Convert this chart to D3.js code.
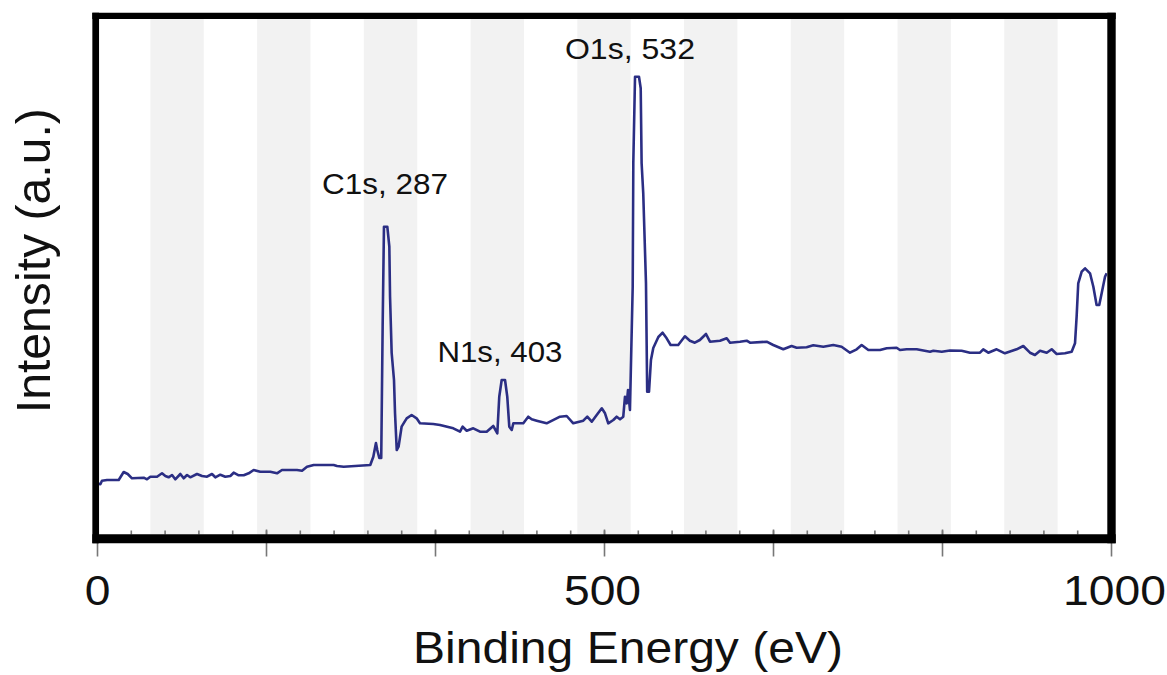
<!DOCTYPE html>
<html>
<head>
<meta charset="utf-8">
<script src="https://cdn.jsdelivr.net/npm/d3@7"></script>
<style>
  body { margin: 0; background: #fff; }
  text { font-family: "Liberation Sans", Arial, sans-serif; fill: #111; }
</style>
</head>
<body>
<svg id="chart"></svg>
<script>

// DATA: XPS survey spectrum (intensity in arbitrary units)
const energy = [
  0, 3.3, 4.9, 9.9, 21.4, 26.3, 30.3, 34.5, 46.1, 49.3, 52.6, 59.2, 64.1, 67.4, 70.6, 74,
  77.2, 82.2, 85.5, 88.8, 92, 98.6, 103.6, 108.5, 113.4, 116.7, 121.6, 126.5, 131.5, 134.8,
  139.7, 144.7, 149.6, 154.5, 161, 170.9, 177.5, 182.4, 197.2, 202.2, 207.1, 213.7, 233.4,
  236.7, 243.3, 269.5, 272.5, 275.1, 276.4, 278.4, 280.3, 281.7, 283, 286.3, 288.3, 289,
  290.6, 292.9, 293.9, 295.6, 297.4, 300.4, 305.4, 310.3, 315.2, 318.5, 331.6, 338.3, 351.4,
  358, 360.6, 364.6, 371.1, 377.7, 384.3, 390.8, 394.8, 396.7, 399.1, 402.4, 404.6, 406.6,
  409, 410.6, 420.4, 425.3, 428.7, 433.6, 443.4, 456.6, 463.2, 469.7, 479.6, 483.5, 487.9,
  492.8, 497.8, 501, 504.2, 509.2, 512.5, 515.8, 519, 520.7, 522.4, 523.7, 525.6, 528.3,
  528.9, 530.6, 534.5, 536.2, 537.1, 538.7, 541.4, 542.6, 544.4, 546.3, 548.6, 553.6, 557.8,
  561.8, 565.7, 573.2, 579.8, 584.7, 589.6, 594.5, 600.6, 604.5, 614.4, 621, 624.3, 634.1,
  640.7, 644, 660.4, 666.9, 676.8, 685, 690, 699.8, 706.4, 716.3, 726.1, 734.3, 742.6, 749.2,
  754.1, 760.7, 772.2, 778.8, 788.6, 791.9, 798.5, 808.4, 821.5, 824.8, 833.1, 841.2, 852.7,
  860.9, 870.8, 874, 879, 887.2, 895.4, 906.9, 913.5, 920.1, 925, 930, 936.6, 941.5, 946.4,
  954.6, 961.2, 964.5, 966.1, 967.7, 971.1, 974.4, 979.3, 982.6, 985.8, 988.4, 990.8, 994.1,
  995.7
];
const intensity = [
  54.7, 53.7, 57.3, 58, 58, 66, 64, 59.7, 60.3, 58.7, 61.3, 61.3, 64.7, 62, 60.7, 63,
  58.7, 64, 59.7, 63, 60.7, 64, 62, 61.3, 64, 60.7, 63.3, 61.3, 62, 65.3,
  62.7, 62.7, 64.7, 68, 66.3, 66.3, 64.7, 68, 68, 67.3, 71.3, 73, 73,
  72, 71.3, 73, 81.3, 95, 88, 80, 80, 211.3, 311.3, 311.3, 291.3, 241.3,
  185, 158, 125, 88, 91.3, 111.3, 119.7, 123, 119.7, 114.7, 114, 113, 109.7,
  106.3, 111.3, 107.3, 109.7, 106.3, 106.3, 112, 104.7, 141.3, 158, 158, 141.3, 111.3,
  108, 114.7, 114.7, 121.3, 118.7, 117.3, 114.7, 121.3, 122, 114.7, 117.3, 121.3, 116.3,
  123, 129.7, 124.7, 114.7, 118, 121.3, 118.7, 121.3, 141.3, 134.7, 148, 128, 251.3,
  374.7, 461.3, 461.3, 449.7, 374.7, 344.7, 254.7, 146.3, 146.3, 178, 190, 201, 205.3,
  199.7, 193, 193, 201.7, 197.3, 195.3, 198, 204, 196.3, 197.3, 199.7, 195.3, 196.3,
  197.3, 195.3, 196.3, 193, 188.7, 192, 190.3, 190.7, 192.7, 191.3, 193, 191.3, 185.3, 188.7,
  193, 188, 188, 189.7, 190.3, 188, 188.7, 188.7, 186.3, 187.3, 186.3, 187.5, 187.3,
  185.3, 185.3, 188.7, 185.3, 188.7, 184.7, 188.7, 192, 185.3, 183, 187.3, 185.3, 188.7, 184,
  184.7, 186.3, 194.7, 221.3, 254.7, 266.3, 269.7, 264.7, 251.3, 233, 233, 244.7, 261.3,
  264.7
];

// peak labels (anchor = energy, intensity where the label baseline sits)
const peakNames = ["C1s, 287", "N1s, 403", "O1s, 532"];
const peakEnergy = [284, 397.4, 525.6];
const peakLevel = [344.5, 176.3, 478.7];

// axis ticks
const majorTicks = d3.range(0, 7).map(i => i * 1000 / 6);
const minorTicks = d3.range(0, 31).map(i => i * 1000 / 30);
const tickLabels = [0, 500, 1000];

const width = 1167;
const height = 675;

/* SCALES */
const xScale = d3.scaleLinear()
  .domain([0, 1000])
  .range([97, 1111]);

const yScale = d3.scaleLinear()
  .domain([0, 522])
  .range([538, 16]);

const svg = d3.select("#chart")
  .attr("width", width)
  .attr("height", height);

svg.append("clipPath")
  .attr("id", "plot-clip")
  .append("rect")
  .attr("x", 99)
  .attr("y", 19)
  .attr("width", 1107.3 - 99)
  .attr("height", 534 - 19);

// + BACKGROUND STRIPES (19 equal columns, every other one grey)
const bands = d3.range(1, 19, 2).map(i => [i * 1000 / 19, (i + 1) * 1000 / 19]);

svg.append("g")
  .attr("clip-path", "url(#plot-clip)")
  .selectAll("rect")
  .data(bands)
  .join("rect")
  .attr("x", d => xScale(d[0]))
  .attr("width", d => xScale(d[1]) - xScale(d[0]))
  .attr("y", 19)
  .attr("height", 534 - 19)
  .attr("fill", "#f2f2f2");

// + AXES (ticks only, the frame is drawn on top)
const minorAxis = svg.append("g")
  .attr("transform", `translate(0, ${530.5})`)
  .call(d3.axisBottom(xScale).tickValues(minorTicks).tickSize(4).tickFormat(""));

const majorAxis = svg.append("g")
  .attr("transform", `translate(0, ${529.5})`)
  .call(d3.axisBottom(xScale)
    .tickValues(majorTicks)
    .tickSize(27)
    .tickFormat(d => tickLabels.some(t => Math.abs(t - d) < 0.01) ? d3.format("d")(d) : ""));

svg.selectAll(".domain").remove();
svg.selectAll(".tick line")
  .attr("stroke", "#777")
  .attr("stroke-width", 1.6);

majorAxis.selectAll(".tick text")
  .attr("y", 605 - 529.5)
  .attr("dy", 0)
  .attr("font-size", 42)
  .attr("fill", "#111")
  .style("font-family", "'Liberation Sans', Arial, sans-serif")
  .each(function (d) {
    const s = d3.select(this).text();
    if (s) d3.select(this)
      .attr("textLength", s.length * 25.7)
      .attr("lengthAdjust", "spacingAndGlyphs")
      .attr("x", s.length === 4 ? 3 : (s.length === 3 ? -2 : 0));
  });

// + SPECTRUM LINE
const lineGen = d3.line()
  .x((d, i) => xScale(energy[i]))
  .y((d, i) => yScale(intensity[i]));

svg.append("path")
  .datum(energy)
  .attr("clip-path", "url(#plot-clip)")
  .attr("fill", "none")
  .attr("stroke", "#2b2e84")
  .attr("stroke-width", 2.6)
  .attr("stroke-linejoin", "round")
  .attr("d", lineGen);

// + FRAME
const frame = [
  { x1: 95.7, y1: 12.7, x2: 95.7, y2: 543.3, w: 6.7 },
  { x1: 92.3, y1: 15.9, x2: 1115.7, y2: 15.9, w: 6.4 },
  { x1: 1111.5, y1: 12.7, x2: 1111.5, y2: 543.3, w: 8.4 },
  { x1: 92.3, y1: 538.8, x2: 1115.7, y2: 538.8, w: 9 }
];
svg.append("g")
  .selectAll("line")
  .data(frame)
  .join("line")
  .attr("x1", d => d.x1).attr("y1", d => d.y1)
  .attr("x2", d => d.x2).attr("y2", d => d.y2)
  .attr("stroke", "#000")
  .attr("stroke-width", d => d.w);

// + PEAK LABELS
const labelWidths = [126, 125, 130];
svg.append("g")
  .selectAll("text")
  .data(peakNames)
  .join("text")
  .attr("x", (d, i) => xScale(peakEnergy[i]))
  .attr("y", (d, i) => yScale(peakLevel[i]))
  .attr("text-anchor", "middle")
  .attr("font-size", 30)
  .attr("textLength", (d, i) => labelWidths[i])
  .attr("lengthAdjust", "spacingAndGlyphs")
  .text(d => d);

// + AXIS TITLES
svg.append("text")
  .attr("x", 628)
  .attr("y", 663)
  .attr("text-anchor", "middle")
  .attr("font-size", 44)
  .attr("textLength", 430)
  .attr("lengthAdjust", "spacingAndGlyphs")
  .text("Binding Energy (eV)");

svg.append("text")
  .attr("transform", `translate(${50}, ${260.7}) rotate(-90) scale(1, 1.2)`)
  .attr("text-anchor", "middle")
  .attr("font-size", 40)
  .attr("textLength", 305)
  .attr("lengthAdjust", "spacingAndGlyphs")
  .text("Intensity (a.u.)");

</script>
</body>
</html>
